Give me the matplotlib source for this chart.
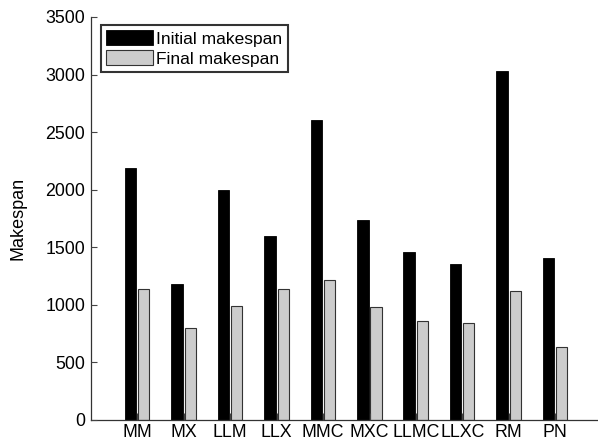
import matplotlib
matplotlib.use("Agg")
import matplotlib.pyplot as plt
import numpy as np

plt.rcParams['font.family'] = ['Liberation Sans', 'DejaVu Sans']

categories = ["MM", "MX", "LLM", "LLX", "MMC", "MXC", "LLMC", "LLXC", "RM", "PN"]
initial = [2187, 1182, 2000, 1600, 2606, 1738, 1460, 1355, 3035, 1407]
final = [1138, 797, 993, 1138, 1216, 984, 863, 845, 1120, 632]

fig = plt.figure(figsize=(5.98, 4.45), dpi=100)
ax = fig.add_axes([0.152, 0.0562, 0.848, 0.9056])

x = np.arange(1, len(categories) + 1)
ax.bar(x - 0.145, initial, width=0.25, color='black', edgecolor='black', linewidth=0.6,
       label='Initial makespan', zorder=2)
ax.bar(x + 0.14, final, width=0.24, color='#cccccc', edgecolor='#333333', linewidth=0.8,
       label='Final makespan', zorder=2)

ax.set_xlim(0, 10.92)
ax.set_ylim(0, 3500)
ax.set_yticks(np.arange(0, 3501, 500))
ax.set_xticks(x)
ax.set_xticklabels(categories)
ax.tick_params(axis='both', direction='in', labelsize=12.8, color='#444444', width=0.8)
ax.tick_params(axis='y', length=4, pad=4)
ax.tick_params(axis='x', length=5, pad=3)
for t in ax.get_xticklines():
    t.set_zorder(5)

for s in ['top', 'right']:
    ax.spines[s].set_visible(False)
for s in ['left', 'bottom']:
    ax.spines[s].set_color('#333333')
    ax.spines[s].set_linewidth(0.9)
ax.set_axisbelow(False)

ax.set_ylabel('Makespan', fontsize=13, labelpad=14)

leg = ax.legend(loc='upper left', bbox_to_anchor=(0.0195, 0.98), fontsize=12.5,
                frameon=True, fancybox=False, handlelength=2.7, handleheight=0.95,
                handletextpad=0.2, borderpad=0.3, labelspacing=0.2, borderaxespad=0)
leg.get_frame().set_edgecolor('black')
leg.get_frame().set_linewidth(1.5)

fig.savefig('out.png', dpi=100)
